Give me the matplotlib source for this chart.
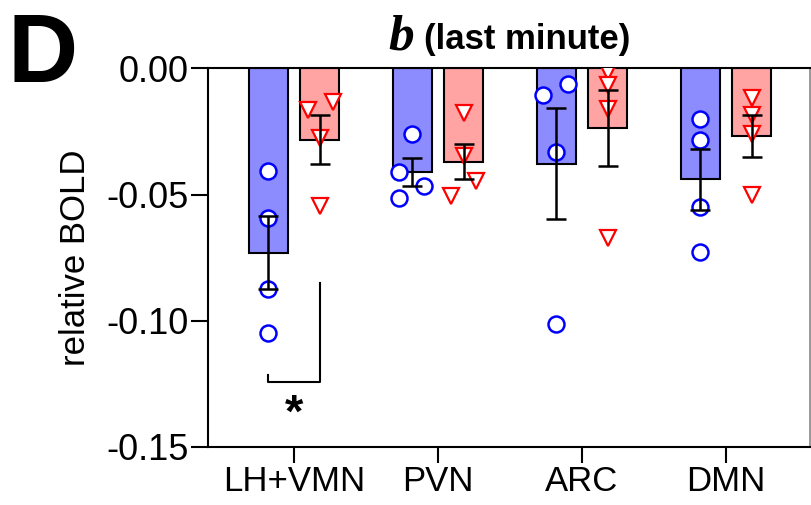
import numpy as np
import matplotlib.pyplot as plt

plt.rcParams['font.family'] = ['Liberation Sans', 'DejaVu Sans']

# Regions and values
regions = ['LH+VMN', 'PVN', 'ARC', 'DMN']

blue_mean = [-0.0730, -0.0410, -0.0378, -0.0440]
blue_sem = [0.0144, 0.0055, 0.0220, 0.0121]
blue_pts = [
    [-0.0405, -0.0594, -0.0874, -0.1050],
    [-0.0259, -0.0409, -0.0467, -0.0515],
    [-0.0107, -0.0063, -0.0332, -0.1013],
    [-0.0200, -0.0282, -0.0550, -0.0726],
]

red_mean = [-0.0282, -0.0369, -0.0235, -0.0268]
red_sem = [0.0096, 0.0071, 0.0150, 0.0084]
red_pts = [
    [-0.0164, -0.0134, -0.0275, -0.0546],
    [-0.0176, -0.0349, -0.0448, -0.0504],
    [-0.0015, -0.0065, -0.0160, -0.0673],
    [-0.0116, -0.0183, -0.0259, -0.0500],
]

# horizontal scatter of the dots (as plotted in the original)
blue_jit = [[0, 0, 0, 0], [0, -0.088, 0.083, -0.088], [-0.088, 0.085, 0, 0], [0, 0, 0, 0]]
red_jit = [[-0.085, 0.088, 0, 0], [0, 0, 0.085, -0.088], [0, 0, 0, 0], [0, 0, 0, 0]]

blue_bar = '#8c8cff'
red_bar = '#ffa3a3'
x = np.arange(len(regions))
off = 0.18
w = 0.27

fig = plt.figure(figsize=(8.12, 5.05), dpi=100)
ax = fig.add_axes([0.2562, 0.1154, 0.7413, 0.749])

ax.bar(x - off, blue_mean, w, color=blue_bar, edgecolor='black', linewidth=1.5, zorder=1)
ax.bar(x + off, red_mean, w, color=red_bar, edgecolor='black', linewidth=1.5, zorder=1)

for i in range(len(regions)):
    ax.plot(x[i] - off + np.array(blue_jit[i]), blue_pts[i], 'o', ms=11.5, mfc='white',
            mec='#0000ff', mew=1.8, zorder=3)
    ax.plot(x[i] + off + np.array(red_jit[i]), red_pts[i], 'v', ms=12, mfc='white',
            mec='#ff0000', mew=1.6, zorder=3)

ax.errorbar(x - off, blue_mean, yerr=blue_sem, fmt='none', ecolor='black',
            elinewidth=1.8, capsize=7.5, capthick=1.8, zorder=4)
ax.errorbar(x + off, red_mean, yerr=red_sem, fmt='none', ecolor='black',
            elinewidth=1.8, capsize=7.5, capthick=1.8, zorder=4)

# significance bracket
ax.plot([x[0] - off, x[0] - off, x[0] + off, x[0] + off],
        [-0.1214, -0.1242, -0.1242, -0.0852], color='black', lw=1.5, zorder=2)
ax.text(x[0], -0.1375, '*', ha='center', va='center', fontsize=34, fontweight='bold')

ax.set_xlim(-0.597, 3.583)
ax.set_ylim(-0.15, 0)
ax.set_yticks([0, -0.05, -0.10, -0.15])
ax.set_yticklabels(['0.00', '-0.05', '-0.10', '-0.15'])
ax.set_xticks(x)
ax.set_xticklabels(regions)
ax.tick_params(axis='y', labelsize=26, length=12, width=1.5, pad=2)
ax.tick_params(axis='x', labelsize=25, length=11.5, width=1.5, pad=2)
ax.set_ylabel('relative BOLD', fontsize=25, labelpad=10)

for s in ['left', 'bottom', 'top']:
    ax.spines[s].set_linewidth(1.5)
ax.spines['right'].set_color('#888888')
ax.spines['right'].set_linewidth(1.2)

fig.text(414 / 812, 1 - 49 / 505, 'b', family='Liberation Serif', style='italic',
         weight='bold', fontsize=37, ha='right', va='baseline')
fig.text(424 / 812, 1 - 49 / 505, '(last minute)', weight='bold', fontsize=25,
         ha='left', va='baseline')
fig.text(8 / 812, 1 - 82 / 505, 'D', weight='bold', fontsize=70, ha='left', va='baseline')

fig.savefig('out.png', dpi=100)
